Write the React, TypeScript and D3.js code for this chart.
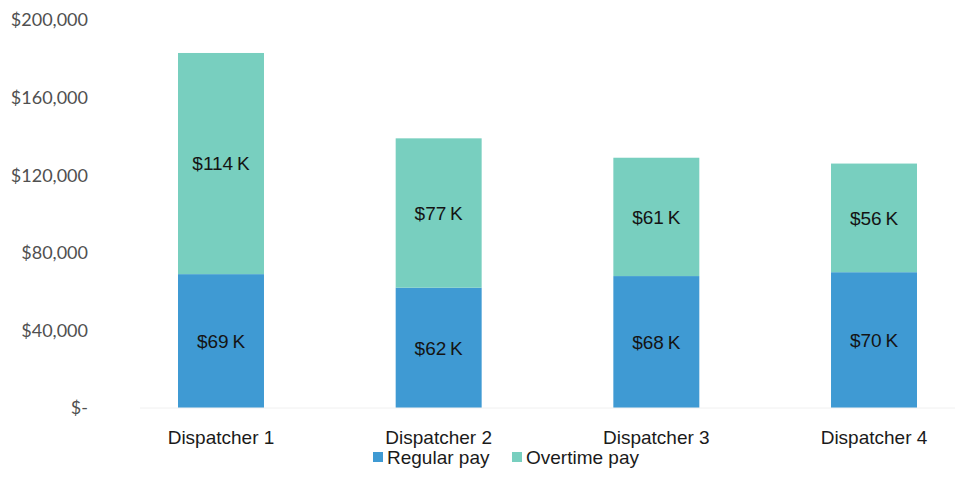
import React from "react";
import * as d3 from "d3";

const categories = ["Dispatcher 1", "Dispatcher 2", "Dispatcher 3", "Dispatcher 4"];
const regularPay = [69000, 62000, 68000, 70000];
const overtimePay = [114000, 77000, 61000, 56000];
const yTicks = [0, 40000, 80000, 120000, 160000, 200000];
const seriesNames = ["Regular pay", "Overtime pay"];
const seriesColors = ["#3F9AD3", "#78CFBF"];

const W = 961;
const H = 497;

export default function App() {
  const y = d3.scaleLinear().domain([0, 200000]).range([408, 20]);
  const x = d3
    .scaleBand<string>()
    .domain(categories)
    .range([140, 955])
    .paddingInner(0.605)
    .paddingOuter(0.1746);
  const bw = x.bandwidth();
  const fmtTick = (v: number) => (v === 0 ? "$-" : d3.format("$,")(v));
  const fmtK = (v: number) => `$${Math.round(v / 1000)}\u2009K`;
  const font = "'Liberation Sans', Arial, sans-serif";

  return (
    <svg width={W} height={H} style={{ position: "absolute", left: 0, top: 0, background: "#fff" }}>
      {yTicks.map((t) => (
        <text
          key={t}
          x={88}
          y={y(t)}
          dy="0.35em"
          textAnchor="end"
          fontFamily="Lato, 'Open Sans', sans-serif"
          fontSize={18}
          fill="#505050"
        >
          {fmtTick(t)}
        </text>
      ))}
      {categories.map((c, i) => {
        const x0 = x(c)!;
        const r = regularPay[i];
        const o = overtimePay[i];
        return (
          <g key={c}>
            <rect x={x0} y={y(r)} width={bw} height={y(0) - y(r)} fill={seriesColors[0]} />
            <rect x={x0} y={y(r + o)} width={bw} height={y(r) - y(r + o)} fill={seriesColors[1]} />
            <text
              x={x0 + bw / 2}
              y={(y(0) + y(r)) / 2}
              dy="0.35em"
              textAnchor="middle"
              fontFamily={font}
              fontSize={19}
              fill="#141414"
            >
              {fmtK(r)}
            </text>
            <text
              x={x0 + bw / 2}
              y={(y(r) + y(r + o)) / 2}
              dy="0.35em"
              textAnchor="middle"
              fontFamily={font}
              fontSize={19}
              fill="#141414"
            >
              {fmtK(o)}
            </text>
            <text
              x={x0 + bw / 2}
              y={437}
              dy="0.35em"
              textAnchor="middle"
              fontFamily={font}
              fontSize={19}
              fill="#1a1a1a"
            >
              {c}
            </text>
          </g>
        );
      })}
      <line x1={140} x2={955} y1={y(0)} y2={y(0)} stroke="#f0f0f0" strokeWidth={1} />
      {seriesNames.map((s, i) => {
        const lx = [373, 512][i];
        return (
          <g key={s}>
            <rect x={lx} y={452} width={10} height={10} fill={seriesColors[i]} />
            <text
              x={lx + 14}
              y={457}
              dy="0.35em"
              fontFamily={font}
              fontSize={19}
              fill="#1a1a1a"
            >
              {s}
            </text>
          </g>
        );
      })}
    </svg>
  );
}
